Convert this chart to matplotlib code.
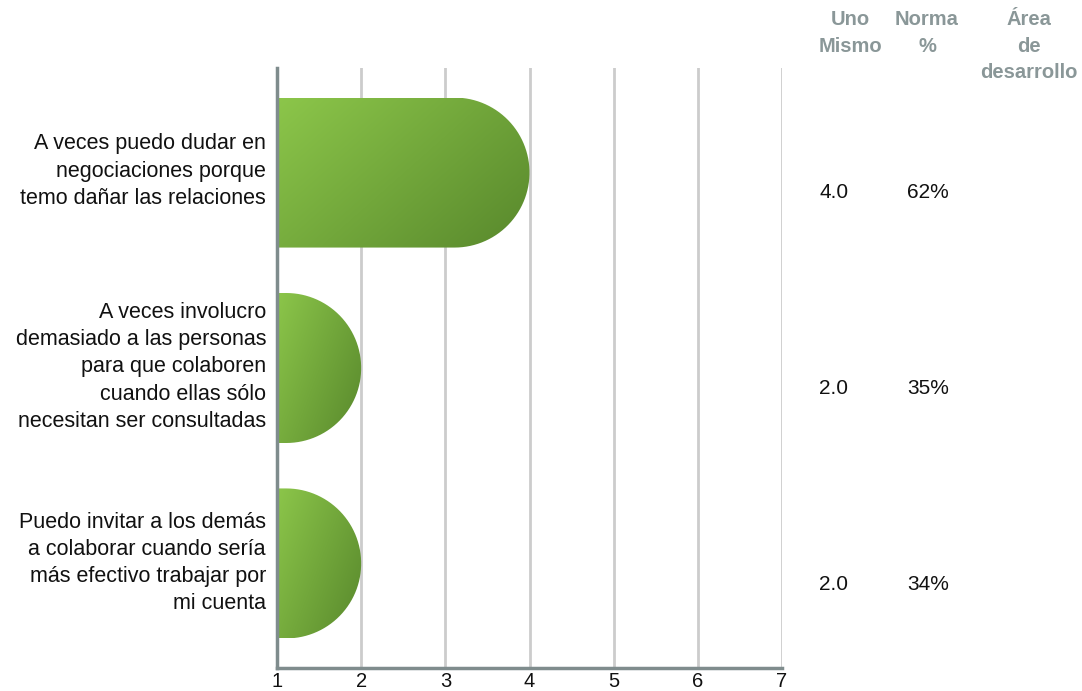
import numpy as np
import matplotlib
matplotlib.use("Agg")
import matplotlib.pyplot as plt
from matplotlib.path import Path
from matplotlib.patches import PathPatch

plt.rcParams['font.family'] = ['Liberation Sans', 'DejaVu Sans']

# data
categories = [
    "A veces puedo dudar en\nnegociaciones porque\ntemo dañar las relaciones",
    "A veces involucro\ndemasiado a las personas\npara que colaboren\ncuando ellas sólo\nnecesitan ser consultadas",
    "Puedo invitar a los demás\na colaborar cuando sería\nmás efectivo trabajar por\nmi cuenta",
]
scores = [4.0, 2.0, 2.0]
norms = ["62%", "35%", "34%"]
headers = ["Uno\nMismo", "Norma\n%", "Área\nde\ndesarrollo"]
ticks = [1, 2, 3, 4, 5, 6, 7]

W, H = 1082, 691
fig = plt.figure(figsize=(W / 100, H / 100), dpi=100)
ax = fig.add_axes([277 / W, 23 / H, (782 - 277) / W, (668 - 68) / H])

ax.set_xlim(1, 7)
ax.set_ylim(2.535, -0.535)
ax.set_xticks(ticks)
ax.set_yticks([])
ax.tick_params(axis='x', length=0, labelsize=14.5, pad=3, colors='#111111')
ax.grid(axis='x', color='#cccccc', linewidth=2)
ax.set_axisbelow(True)
for s in ['top', 'right']:
    ax.spines[s].set_visible(False)
for s in ['left', 'bottom']:
    ax.spines[s].set_color('#7f8c8d')
    ax.spines[s].set_linewidth(2.5)

# pixels per data unit, to get round bar ends
bw = (782 - 277) / 6.0
bh = (668 - 68) / 3.07
bar_h = 150 / bh
ry = bar_h / 2
rx = ry * bh / bw

light = np.array([140, 198, 74]) / 255
dark = np.array([88, 136, 44]) / 255

for i, v in enumerate(scores):
    y0, y1 = i - ry, i + ry
    x0, x1 = 1, v
    xs = x1 - rx
    t = np.linspace(np.pi / 2, -np.pi / 2, 60)
    verts = [(x0, y0), (xs, y0)]
    verts += [(xs + rx * np.cos(a), i - ry * np.sin(a)) for a in t]
    verts += [(x0, y1), (x0, y0)]
    codes = [Path.MOVETO] + [Path.LINETO] * (len(verts) - 2) + [Path.CLOSEPOLY]
    patch = PathPatch(Path(verts, codes), facecolor='none', edgecolor='none')
    ax.add_patch(patch)
    u = np.linspace(0, 1, 200)
    vv = np.linspace(0, 1, 100)
    U, V = np.meshgrid(u, vv)
    g = (0.6 * U + 0.4 * V)[..., None]
    img = light * (1 - g) + dark * g
    im = ax.imshow(img, extent=(x0, x1, y1, y0), aspect='auto', zorder=2,
                   interpolation='bilinear')
    im.set_clip_path(patch)

    fig.text(266 / W, 1 - (171 + 196 * i) / H, categories[i],
             ha='right', va='center', fontsize=15.5, color='#111111',
             linespacing=1.38)
    yf = 1 - (172 + 196 * i + 20) / H
    fig.text(834 / W, yf, f"{v:.1f}", ha='center', va='center', fontsize=15,
             color='#111111')
    fig.text(928 / W, yf, norms[i], ha='center', va='center', fontsize=15,
             color='#111111')

for x, h in zip([850, 927, 1029], headers):
    fig.text(x / W, 1 - 10 / H, h, ha='center', va='top', fontsize=14.5,
             fontweight='bold', color='#8a9798', linespacing=1.5)

fig.savefig("out.png", dpi=100)
